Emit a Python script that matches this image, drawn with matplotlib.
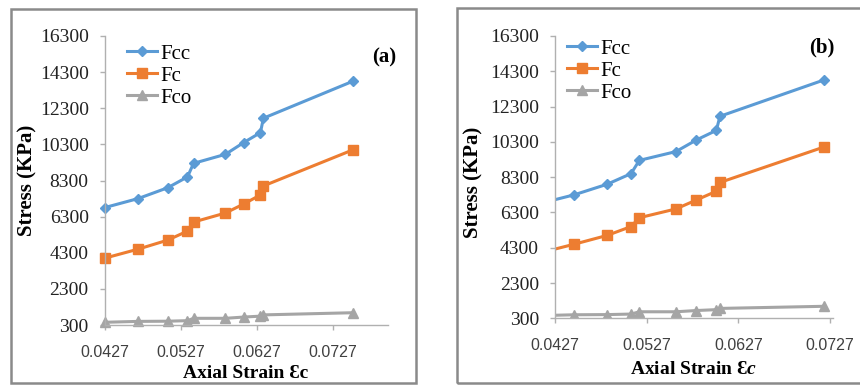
import matplotlib
matplotlib.use("Agg")
import matplotlib.pyplot as plt
from matplotlib.patches import Rectangle

# stress values (KPa), shared by both specimens
fcc = [6800, 7300, 7900, 8500, 9250, 9750, 10400, 10950, 11750, 13800]
fc = [4000, 4500, 5000, 5500, 6000, 6500, 7000, 7500, 8000, 10000]
fco = [450, 500, 510, 540, 670, 670, 740, 790, 860, 980]

# axial strain for each specimen
strain_a = [0.0427, 0.0471, 0.0510, 0.0536, 0.0544, 0.0586, 0.0610, 0.0632, 0.0636, 0.0754]
strain_b = [0.0410, 0.0448, 0.0484, 0.0510, 0.0519, 0.0559, 0.0581, 0.0603, 0.0607, 0.0720]

xticks = [0.0427, 0.0527, 0.0627, 0.0727]
yticks = list(range(300, 16301, 2000))

W, H = 860, 386
serif = ["Liberation Serif", "DejaVu Serif"]
sans = ["Liberation Sans", "DejaVu Sans"]

plt.rcParams["mathtext.fontset"] = "custom"
plt.rcParams["mathtext.it"] = "Liberation Serif:italic:bold"
plt.rcParams["mathtext.rm"] = "Liberation Serif:bold"

fig = plt.figure(figsize=(W / 100, H / 100), dpi=100)


def px_box(l, t, r, b):
    return [l / W, 1 - b / H, (r - l) / W, (b - t) / H]


# outer frames around each chart
for l, t, r, b in [(11, 9, 416, 383), (457, 8, 866, 383)]:
    fig.patches.append(Rectangle((l / W, 1 - b / H), (r - l) / W, (b - t) / H,
                                 transform=fig.transFigure, fill=False,
                                 edgecolor="#8a8a8a", lw=1.8))


def panel(rect, strain, xmax, clip, tag, tag_xy, leg_xy, xlab, xlab_xy, ylab_xy):
    ax = fig.add_axes(px_box(*rect))
    ax.plot(strain, fcc, color="#5b9bd5", lw=2.2, marker="D", ms=5.5, label="Fcc", clip_on=clip)
    ax.plot(strain, fc, color="#ed7d31", lw=2.2, marker="s", ms=7, label="Fc", clip_on=clip)
    ax.plot(strain, fco, color="#a5a5a5", lw=2.2, marker="^", ms=7, label="Fco", clip_on=clip)
    ax.set_xlim(0.0427, xmax)
    ax.set_ylim(300, 16300)
    ax.set_xticks(xticks)
    ax.set_xticklabels([f"{v:.4f}" for v in xticks], family=sans, fontsize=11.5, color="#404040")
    ax.set_yticks(yticks)
    ax.set_yticklabels([str(v) for v in yticks], family=serif, fontsize=14)
    for s in ["top", "right"]:
        ax.spines[s].set_visible(False)
    for s in ["left", "bottom"]:
        ax.spines[s].set_color("#b0b0b0")
        ax.spines[s].set_linewidth(1.0)
    ax.tick_params(axis="both", colors="#b0b0b0", length=3.5, width=1.0)
    ax.tick_params(axis="x", labelcolor="#404040", pad=11)
    ax.tick_params(axis="y", labelcolor="#222222", pad=8)

    fig.text(tag_xy[0] / W, 1 - tag_xy[1] / H, tag, family=serif, fontsize=15,
             fontweight="bold", ha="center", va="center")
    fig.text(xlab_xy[0] / W, 1 - xlab_xy[1] / H, xlab, family=serif, fontsize=14,
             fontweight="bold", ha="center", va="center")
    fig.text(ylab_xy[0] / W, 1 - ylab_xy[1] / H, "Stress (KPa)", family=serif, fontsize=15,
             fontweight="bold", ha="center", va="center", rotation=90)
    ax.legend(loc="upper left", bbox_to_anchor=(leg_xy[0] / W, 1 - leg_xy[1] / H),
              bbox_transform=fig.transFigure, frameon=False, prop={"family": serif, "size": 15},
              handlelength=1.45, handletextpad=0.15, labelspacing=0.12, borderpad=0, borderaxespad=0)
    return ax


panel((104.7, 36, 388, 325), strain_a, 0.0800, False, "(a)", (384, 57), (127, 44),
      "Axial Strain Ɛc", (246, 373), (27, 180))
panel((555, 36, 832.7, 318.3), strain_b, 0.0730, True, "(b)", (822, 47), (567, 39),
      "Axial Strain Ɛ$\\mathit{c}$", (693, 370), (473, 182))

fig.savefig("out.png", dpi=100)
